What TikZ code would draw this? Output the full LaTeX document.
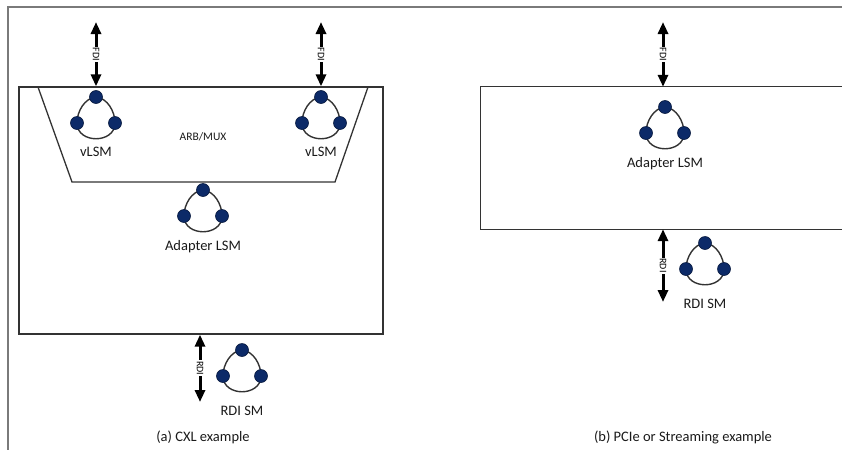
\documentclass[tikz,border=0pt]{standalone}
\usepackage{fontspec}
\setmainfont{Carlito}
\usetikzlibrary{arrows.meta}
\definecolor{navy}{HTML}{0C2A68}
\definecolor{edgecol}{HTML}{333333}
\definecolor{framecol}{HTML}{7A7A7A}
\definecolor{txt}{HTML}{1A1A1A}
\tikzset{
  dot/.style={circle, fill=navy, draw=navy!60!black, line width=0.6pt, minimum size=13pt, inner sep=0pt},
  loopline/.style={draw=edgecol, line width=1.4pt},
  smlabel/.style={font=\fontsize{14.5}{16}\selectfont, text=txt, inner sep=0pt},
  boxline/.style={draw=edgecol, line width=1.3pt},
  framestyle/.style={draw=framecol, line width=1.8pt},
  biarrow/.style={line width=3pt, {Triangle[width=10pt,length=12pt]}-{Triangle[width=10pt,length=12pt]}},
  ifacelabel/.style={fill=white, inner sep=1pt, rotate=-90, text=black, font=\fontsize{10}{10}\selectfont},
  caption/.style={font=\fontsize{14.5}{16}\selectfont, text=txt},
  pics/statem/.style={code={
    \draw[loopline] (0,0) .. controls (-11,1) and (-19,14) .. (-19,26)
      .. controls (-19,47) and (19,47) .. (19,26)
      .. controls (19,14) and (11,1) .. (0,0);
    \node[dot] (-t) at (0,0) {};
    \node[dot] (-l) at (-19,26) {};
    \node[dot] (-r) at (19,26) {};
    \node[smlabel] (-lab) at (0,#1) {\pgfkeysvalueof{/tikz/smtext}};
  }},
  smtext/.initial={},
}
\begin{document}
\begin{tikzpicture}[x=1pt,y=-1pt]
\useasboundingbox (0,0) rectangle (842,450);
% outer frame
\draw[framestyle] (842,7) -- (8,7) -- (8,450);

% left box
\node[boxline, minimum width=364pt, minimum height=247pt, inner sep=0pt] (L) at (201,210.5) {};
% trapezoid ARB/MUX
\draw[boxline] (38,87) -- (72,182) -- (335,182) -- (368,87);
\node[font=\fontsize{11.5}{12}\selectfont, text=txt] (arb) at (203,137) {ARB/MUX};

% right box (open to the right edge)
\node[minimum width=361pt, minimum height=142pt, inner sep=0pt] (R) at (661.5,158) {};
\draw[boxline] (R.north east) -- (R.north west) -- (R.south west) -- (R.south east);

% state machines
\pic[smtext=vLSM] (v1) at (96,97) {statem=55};
\pic[smtext=vLSM] (v2) at (321,97) {statem=55};
\pic[smtext=Adapter LSM] (a1) at (203,190) {statem=57};
\pic[smtext=RDI SM] (r1) at (242,350) {statem=61};
\pic[smtext=Adapter LSM] (a2) at (665,107) {statem=57};
\pic[smtext=RDI SM] (r2) at (705,243) {statem=61};

% interface arrows
\coordinate (fdi1) at (96,22);
\coordinate (fdi2) at (321,22);
\coordinate (fdi3) at (663,22);
\coordinate (rdi1) at (200,402);
\coordinate (rdi2) at (663,302);
\draw[biarrow] (fdi1) -- node[ifacelabel] {FDI} (fdi1 |- L.north);
\draw[biarrow] (fdi2) -- node[ifacelabel] {FDI} (fdi2 |- L.north);
\draw[biarrow] (fdi3) -- node[ifacelabel] {FDI} (fdi3 |- R.north);
\draw[biarrow] (rdi1 |- L.south) -- node[ifacelabel] {RDI} (rdi1);
\draw[biarrow] (rdi2 |- R.south) -- node[ifacelabel] {RDI} (rdi2);

% captions
\node[caption] (capa) at (203,437) {(a) CXL example};
\node[caption] (capb) at (683,437) {(b) PCIe or Streaming example};
\end{tikzpicture}
\end{document}
